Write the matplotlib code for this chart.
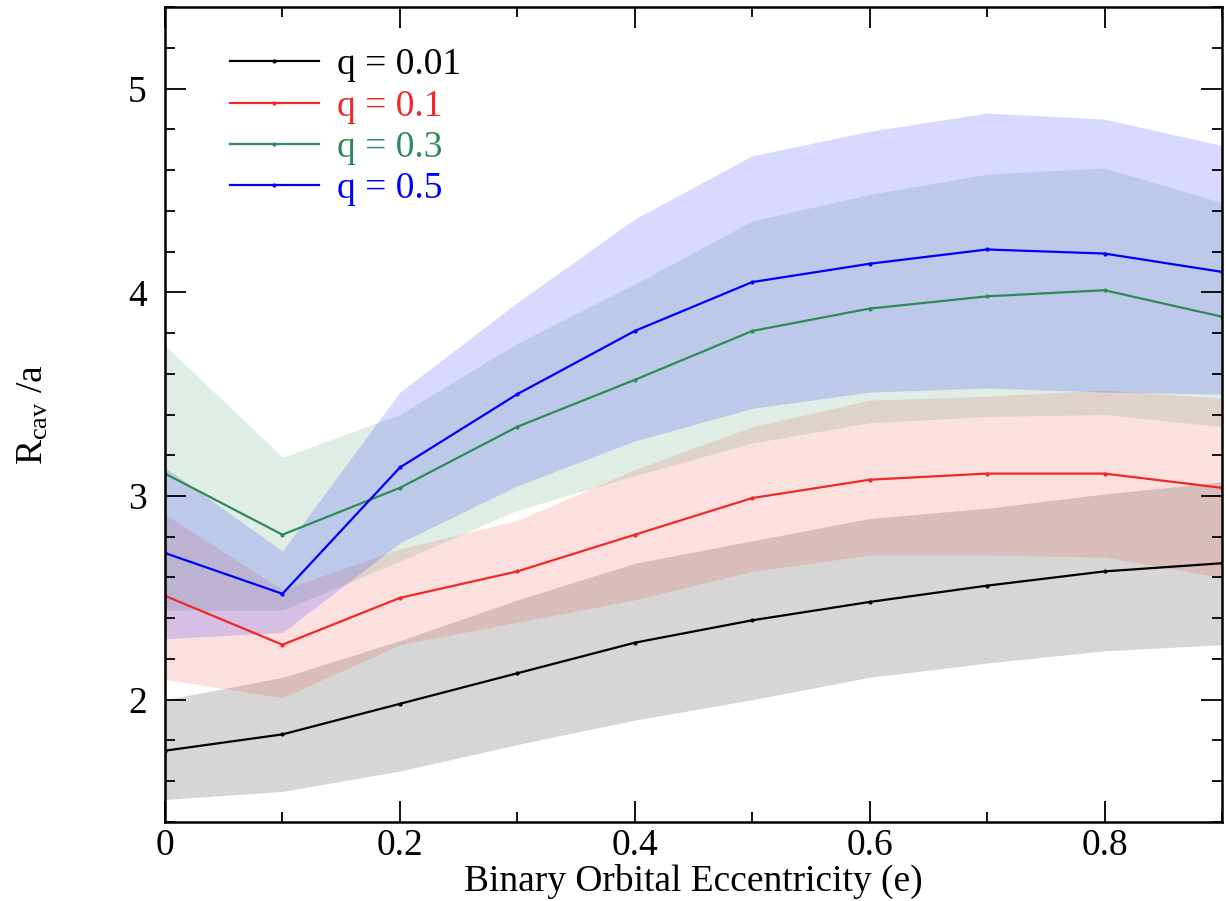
import numpy as np
import matplotlib
matplotlib.use("Agg")
import matplotlib.pyplot as plt
from matplotlib.ticker import MultipleLocator, FuncFormatter

plt.rcParams['font.family'] = ['Liberation Serif', 'DejaVu Serif']
plt.rcParams['mathtext.fontset'] = 'custom'
plt.rcParams['mathtext.rm'] = 'Liberation Serif'
plt.rcParams['mathtext.it'] = 'Liberation Serif:italic'

# binary eccentricity
ecc = [0.0, 0.1, 0.2, 0.3, 0.4, 0.5, 0.6, 0.7, 0.8, 0.9]

# q = 0.01
r_q001 = [1.75, 1.83, 1.98, 2.13, 2.28, 2.39, 2.48, 2.56, 2.63, 2.67]
lo_q001 = [1.51, 1.55, 1.65, 1.78, 1.90, 2.00, 2.11, 2.18, 2.24, 2.27]
hi_q001 = [2.00, 2.11, 2.29, 2.49, 2.67, 2.78, 2.89, 2.94, 3.01, 3.07]

# q = 0.1
r_q01 = [2.51, 2.27, 2.50, 2.63, 2.81, 2.99, 3.08, 3.11, 3.11, 3.04]
lo_q01 = [2.10, 2.01, 2.27, 2.38, 2.49, 2.63, 2.71, 2.71, 2.70, 2.60]
hi_q01 = [2.91, 2.54, 2.74, 2.88, 3.13, 3.34, 3.47, 3.49, 3.52, 3.48]

# q = 0.3
r_q03 = [3.11, 2.81, 3.04, 3.34, 3.57, 3.81, 3.92, 3.98, 4.01, 3.88]
lo_q03 = [2.44, 2.44, 2.68, 2.93, 3.10, 3.26, 3.36, 3.39, 3.40, 3.34]
hi_q03 = [3.74, 3.19, 3.40, 3.75, 4.04, 4.35, 4.48, 4.58, 4.61, 4.44]

# q = 0.5
r_q05 = [2.72, 2.52, 3.14, 3.50, 3.81, 4.05, 4.14, 4.21, 4.19, 4.10]
lo_q05 = [2.30, 2.33, 2.77, 3.05, 3.27, 3.43, 3.51, 3.53, 3.51, 3.50]
hi_q05 = [3.14, 2.73, 3.51, 3.95, 4.36, 4.67, 4.79, 4.88, 4.85, 4.72]

series = [
    ("q = 0.01", r_q001, lo_q001, hi_q001, "black", 0.16),
    ("q = 0.1", r_q01, lo_q01, hi_q01, "#f02828", 0.14),
    ("q = 0.3", r_q03, lo_q03, hi_q03, "#2e8b57", 0.15),
    ("q = 0.5", r_q05, lo_q05, hi_q05, "#0000ff", 0.15),
]

fig = plt.figure(figsize=(12.26, 9.01), dpi=100)
ax = fig.add_axes([0.1346, 0.0877, 0.8621, 0.9045])

# line first, then its band, so later bands tint earlier lines
for label, mean, lo, hi, col, alpha in series:
    ax.plot(ecc, mean, color=col, lw=1.6, marker='.', ms=4, label=label)
    ax.fill_between(ecc, lo, hi, color=col, alpha=alpha, lw=0)

ax.set_xlim(0, 0.9)
ax.set_ylim(1.4, 5.4)

ax.xaxis.set_major_locator(MultipleLocator(0.2))
ax.xaxis.set_minor_locator(MultipleLocator(0.1))
ax.yaxis.set_major_locator(MultipleLocator(1))
ax.yaxis.set_minor_locator(MultipleLocator(0.2))
ax.xaxis.set_major_formatter(FuncFormatter(lambda v, p: '%g' % round(v, 3)))
ax.yaxis.set_major_formatter(FuncFormatter(lambda v, p: '%g' % v))

ax.tick_params(which='both', direction='in', top=True, right=True, width=1.3)
ax.tick_params(which='major', length=15, labelsize=27)
ax.tick_params(which='minor', length=7.5)
ax.tick_params(axis='x', which='major', pad=5)
ax.tick_params(axis='y', which='major', pad=13)
for sp in ax.spines.values():
    sp.set_linewidth(1.8)

ax.set_xlabel('Binary Orbital Eccentricity (e)', fontsize=27, labelpad=0)
ax.set_ylabel(r'R$_{\rm cav}$ /a', fontsize=27, labelpad=56)

leg = ax.legend(loc='upper left', frameon=False, fontsize=27, handlelength=2.35,
                handletextpad=0.48, labelspacing=0.18, borderaxespad=0.3,
                bbox_to_anchor=(0.037, 0.982))
for txt, s in zip(leg.get_texts(), series):
    txt.set_color(s[4])

fig.savefig('out.png', dpi=100)
